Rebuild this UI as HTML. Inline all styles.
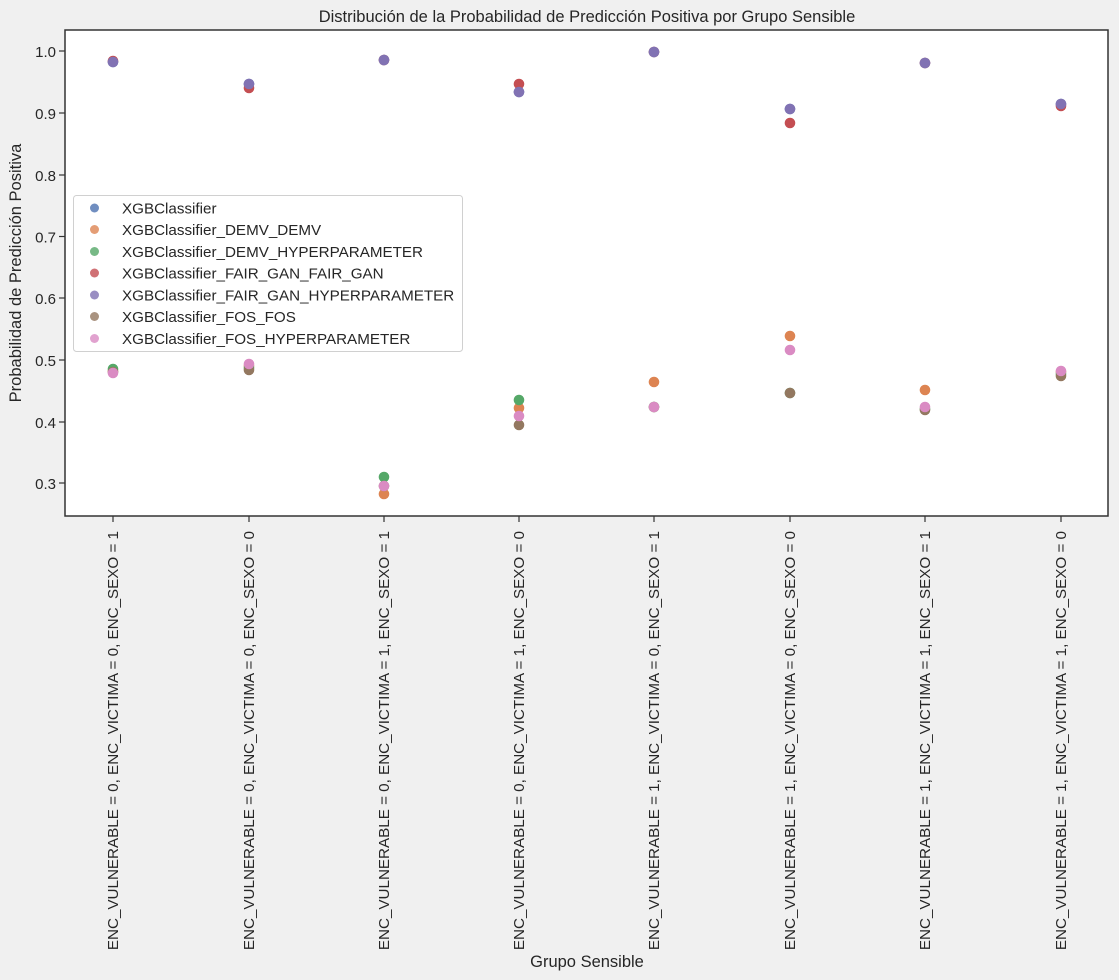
<!DOCTYPE html>
<html><head><meta charset="utf-8"><style>
body{margin:0;background:#f0f0f0;}
svg{display:block;font-family:"Liberation Sans",sans-serif;}
</style></head><body>
<svg width="1119" height="980" viewBox="0 0 1119 980">
<rect width="1119" height="980" fill="#f0f0f0"/>
<rect x="65" y="30" width="1043" height="486" fill="#fff"/>
<text x="587" y="22" font-size="16.5" text-anchor="middle" fill="#262626">Distribución de la Probabilidad de Predicción Positiva por Grupo Sensible</text>
<g fill="#262626" font-size="15" text-anchor="end">
<line x1="59" x2="65" y1="51" y2="51" stroke="#333" stroke-width="1.2"/><text x="56" y="57">1.0</text>
<line x1="59" x2="65" y1="113" y2="113" stroke="#333" stroke-width="1.2"/><text x="56" y="119">0.9</text>
<line x1="59" x2="65" y1="175" y2="175" stroke="#333" stroke-width="1.2"/><text x="56" y="181">0.8</text>
<line x1="59" x2="65" y1="236.5" y2="236.5" stroke="#333" stroke-width="1.2"/><text x="56" y="242.5">0.7</text>
<line x1="59" x2="65" y1="298" y2="298" stroke="#333" stroke-width="1.2"/><text x="56" y="304">0.6</text>
<line x1="59" x2="65" y1="360" y2="360" stroke="#333" stroke-width="1.2"/><text x="56" y="366">0.5</text>
<line x1="59" x2="65" y1="422" y2="422" stroke="#333" stroke-width="1.2"/><text x="56" y="428">0.4</text>
<line x1="59" x2="65" y1="483" y2="483" stroke="#333" stroke-width="1.2"/><text x="56" y="489">0.3</text>
</g>
<text transform="translate(21,273) rotate(-90)" font-size="16.5" text-anchor="middle" fill="#262626">Probabilidad de Predicción Positiva</text>
<text x="587" y="967" font-size="16.5" text-anchor="middle" fill="#262626">Grupo Sensible</text>
<g stroke="#333" stroke-width="1.2">
<line x1="113" x2="113" y1="516" y2="522"/><line x1="249" x2="249" y1="516" y2="522"/><line x1="384" x2="384" y1="516" y2="522"/><line x1="519" x2="519" y1="516" y2="522"/><line x1="654" x2="654" y1="516" y2="522"/><line x1="790" x2="790" y1="516" y2="522"/><line x1="925" x2="925" y1="516" y2="522"/><line x1="1061" x2="1061" y1="516" y2="522"/>
</g>
<g fill="#262626" font-size="15.2" text-anchor="end">
<text transform="translate(118,531) rotate(-90)">ENC_VULNERABLE = 0, ENC_VICTIMA = 0, ENC_SEXO = 1</text>
<text transform="translate(254,531) rotate(-90)">ENC_VULNERABLE = 0, ENC_VICTIMA = 0, ENC_SEXO = 0</text>
<text transform="translate(389,531) rotate(-90)">ENC_VULNERABLE = 0, ENC_VICTIMA = 1, ENC_SEXO = 1</text>
<text transform="translate(524,531) rotate(-90)">ENC_VULNERABLE = 0, ENC_VICTIMA = 1, ENC_SEXO = 0</text>
<text transform="translate(659,531) rotate(-90)">ENC_VULNERABLE = 1, ENC_VICTIMA = 0, ENC_SEXO = 1</text>
<text transform="translate(795,531) rotate(-90)">ENC_VULNERABLE = 1, ENC_VICTIMA = 0, ENC_SEXO = 0</text>
<text transform="translate(930,531) rotate(-90)">ENC_VULNERABLE = 1, ENC_VICTIMA = 1, ENC_SEXO = 1</text>
<text transform="translate(1066,531) rotate(-90)">ENC_VULNERABLE = 1, ENC_VICTIMA = 1, ENC_SEXO = 0</text>
</g>
<g>
<g fill="#4c72b0"><circle cx="113" cy="62" r="5.3"/><circle cx="249" cy="84" r="5.3"/><circle cx="384" cy="60" r="5.3"/><circle cx="519" cy="92" r="5.3"/><circle cx="654" cy="52" r="5.3"/><circle cx="790" cy="109" r="5.3"/><circle cx="925" cy="63" r="5.3"/><circle cx="1061" cy="104" r="5.3"/></g>
<g fill="#dd8452"><circle cx="113" cy="371" r="5.3"/><circle cx="249" cy="366" r="5.3"/><circle cx="384" cy="494" r="5.3"/><circle cx="519" cy="408" r="5.3"/><circle cx="654" cy="382" r="5.3"/><circle cx="790" cy="336" r="5.3"/><circle cx="925" cy="390" r="5.3"/><circle cx="1061" cy="372" r="5.3"/></g>
<g fill="#55a868"><circle cx="113" cy="369" r="5.3"/><circle cx="249" cy="368" r="5.3"/><circle cx="384" cy="477" r="5.3"/><circle cx="519" cy="400" r="5.3"/><circle cx="654" cy="407" r="5.3"/><circle cx="790" cy="393" r="5.3"/><circle cx="925" cy="409" r="5.3"/><circle cx="1061" cy="374" r="5.3"/></g>
<g fill="#c44e52"><circle cx="113" cy="61" r="5.3"/><circle cx="249" cy="88" r="5.3"/><circle cx="384" cy="60" r="5.3"/><circle cx="519" cy="84" r="5.3"/><circle cx="654" cy="52" r="5.3"/><circle cx="790" cy="123" r="5.3"/><circle cx="925" cy="63" r="5.3"/><circle cx="1061" cy="106" r="5.3"/></g>
<g fill="#8172b3"><circle cx="113" cy="62" r="5.3"/><circle cx="249" cy="84" r="5.3"/><circle cx="384" cy="60" r="5.3"/><circle cx="519" cy="92" r="5.3"/><circle cx="654" cy="52" r="5.3"/><circle cx="790" cy="109" r="5.3"/><circle cx="925" cy="63" r="5.3"/><circle cx="1061" cy="104" r="5.3"/></g>
<g fill="#937860"><circle cx="113" cy="372" r="5.3"/><circle cx="249" cy="370" r="5.3"/><circle cx="384" cy="486" r="5.3"/><circle cx="519" cy="425" r="5.3"/><circle cx="654" cy="407" r="5.3"/><circle cx="790" cy="393" r="5.3"/><circle cx="925" cy="410" r="5.3"/><circle cx="1061" cy="376" r="5.3"/></g>
<g fill="#da8bc3"><circle cx="113" cy="373" r="5.3"/><circle cx="249" cy="364" r="5.3"/><circle cx="384" cy="486" r="5.3"/><circle cx="519" cy="416" r="5.3"/><circle cx="654" cy="407" r="5.3"/><circle cx="790" cy="350" r="5.3"/><circle cx="925" cy="407" r="5.3"/><circle cx="1061" cy="371" r="5.3"/></g>
</g>
<rect x="73.5" y="195.5" width="389" height="156" rx="3" fill="#fff" fill-opacity="0.85" stroke="#d0d0d0"/>
<g font-size="15.2" fill="#262626">
<circle cx="94.5" cy="208" r="4.5" fill="#4c72b0" opacity="0.8"/><text x="122" y="213.5">XGBClassifier</text>
<circle cx="94.5" cy="229.5" r="4.5" fill="#dd8452" opacity="0.8"/><text x="122" y="235">XGBClassifier_DEMV_DEMV</text>
<circle cx="94.5" cy="251.5" r="4.5" fill="#55a868" opacity="0.8"/><text x="122" y="257">XGBClassifier_DEMV_HYPERPARAMETER</text>
<circle cx="94.5" cy="273" r="4.5" fill="#c44e52" opacity="0.8"/><text x="122" y="278.5">XGBClassifier_FAIR_GAN_FAIR_GAN</text>
<circle cx="94.5" cy="295" r="4.5" fill="#8172b3" opacity="0.8"/><text x="122" y="300.5">XGBClassifier_FAIR_GAN_HYPERPARAMETER</text>
<circle cx="94.5" cy="316.5" r="4.5" fill="#937860" opacity="0.8"/><text x="122" y="322">XGBClassifier_FOS_FOS</text>
<circle cx="94.5" cy="338.5" r="4.5" fill="#da8bc3" opacity="0.8"/><text x="122" y="344">XGBClassifier_FOS_HYPERPARAMETER</text>
</g>
<rect x="65" y="30" width="1043" height="486" fill="none" stroke="#333" stroke-width="1.5"/>
</svg>
</body></html>
